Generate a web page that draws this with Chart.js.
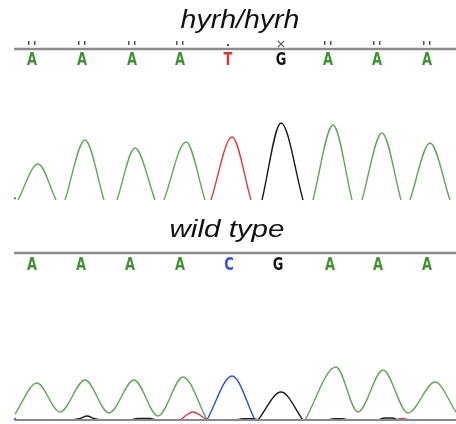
<!DOCTYPE html>
<html>
<head>
<meta charset="utf-8">
<script src="https://cdn.jsdelivr.net/npm/chart.js@4/dist/chart.umd.min.js"></script>
<style>
  html, body { margin: 0; padding: 0; background: #fff; }
  #wrap { position: relative; width: 456px; height: 424px; }
  canvas { position: absolute; left: 0; }
</style>
</head>
<body>
<div id="wrap">
  <canvas id="top" width="456" height="212" style="top:0"></canvas>
  <canvas id="bottom" width="456" height="212" style="top:212px"></canvas>
</div>
<script>
// base calls and where they sit along the trace (scan position)
const mutBases = ['A', 'A', 'A', 'A', 'T', 'G', 'A', 'A', 'A'];
const mutBasePos = [32, 82, 132, 180, 228, 281, 328, 377, 427];
const wtBases = ['A', 'A', 'A', 'A', 'C', 'G', 'A', 'A', 'A'];
const wtBasePos = [32, 81, 130, 180, 229, 278, 330, 378, 427];

// hyrh/hyrh trace, signal per channel (null = no signal)
const mutGreen = [
  [18, 0], [38, 360], [56, 0], null,
  [65, 0], [85, 600], [104, 0], null,
  [117, 0], [135, 520], [155, 0], null,
  [164, 0], [186, 580], [205, 0], null,
  [313, 0], [333, 750], [352, 0], null,
  [362, 0], [382, 670], [401, 0], null,
  [410, 0], [430, 570], [450, 0]
];
const mutRed = [[211, 0], [232, 630], [251, 0]];
const mutBlack = [[262, 0], [281, 770], [303, 0]];
const mutBlue = [[14, 10], [16, 25]];

// wild type trace
const wtGreen = [
  [15, 60], [37, 370], [60, 80], [85, 400], [109, 70], [134, 400], [158, 40], [183, 430], [207, 0], null,
  [305, 0], [336, 530], [358, 80], [383, 500], [408, 70], [435, 380], [456, 80]
];
const wtBlue = [[14, 0], [16, 20], null, [207, 0], [232, 440], [255, 0]];
const wtBlack = [
  [72, 0], [80, 15], [87, 40], [94, 15], [100, 0], null,
  [130, 0], [138, 15], [150, 15], [156, 0], null,
  [236, 0], [243, 12], [253, 12], [258, 0], null,
  [258, 0], [281, 280], [303, 0], null,
  [328, 0], [334, 12], [342, 12], [348, 0], null,
  [378, 0], [385, 20], [392, 20], [398, 0]
];
const wtRed = [[180, 0], [193, 80], [207, 0], null, [395, 0], [402, 15], [410, 0]];

const colors = { A: '#3e9231', T: '#e03535', G: '#151515', C: '#2f4fe0' };
const traceColors = { green: '#62a656', red: '#de3c3c', black: '#1b1b1b', blue: '#2c4ed4' };

function pts(arr) {
  return arr.map(p => p ? { x: p[0], y: p[1] } : { x: null, y: null });
}

const headerPlugin = {
  id: 'traceHeader',
  afterDraw(chart, args, opts) {
    const ctx = chart.ctx;
    const xs = chart.scales.x;
    const area = chart.chartArea;
    ctx.save();
    // title, stretched to the reference width
    ctx.font = 'italic ' + opts.titleSize + 'px "Liberation Sans", Arial, sans-serif';
    ctx.fillStyle = '#111';
    ctx.textAlign = 'center';
    ctx.textBaseline = 'alphabetic';
    const w = ctx.measureText(opts.title).width;
    ctx.save();
    ctx.translate(opts.titleX, opts.titleY);
    ctx.scale(opts.titleWidth / w, 1);
    ctx.fillText(opts.title, 0, 0);
    ctx.restore();
    // header line
    ctx.strokeStyle = '#8c8c8c';
    ctx.lineWidth = 2.5;
    ctx.beginPath();
    ctx.moveTo(area.left, opts.lineY);
    ctx.lineTo(chart.width, opts.lineY);
    ctx.stroke();
    // base letters
    ctx.font = 'bold 18px "DejaVu Sans", sans-serif';
    ctx.textBaseline = 'middle';
    opts.bases.forEach((b, i) => {
      const x = xs.getPixelForValue(opts.basePos[i]);
      if (opts.marks) {
        ctx.fillStyle = '#555';
        if (b === 'A') {
          ctx.fillRect(x - 4, opts.lineY - 8, 1.5, 4);
          ctx.fillRect(x + 2, opts.lineY - 8, 1.5, 4);
        } else if (b === 'T') {
          ctx.fillRect(x - 1, opts.lineY - 5, 2, 2);
        } else {
          ctx.strokeStyle = '#666';
          ctx.lineWidth = 1.2;
          ctx.beginPath();
          ctx.moveTo(x - 3, opts.lineY - 8); ctx.lineTo(x + 3, opts.lineY - 2);
          ctx.moveTo(x + 3, opts.lineY - 8); ctx.lineTo(x - 3, opts.lineY - 2);
          ctx.stroke();
        }
      }
      ctx.fillStyle = colors[b];
      ctx.save();
      ctx.translate(x, opts.letterY);
      ctx.scale(0.72, 1);
      ctx.fillText(b, 0, 0);
      ctx.restore();
    });
    // baseline under the trace
    if (opts.baseline) {
      ctx.strokeStyle = '#8a8a8a';
      ctx.lineWidth = 2;
      ctx.beginPath();
      ctx.moveTo(area.left + 1, area.bottom);
      ctx.lineTo(area.right, area.bottom);
      ctx.stroke();
    }
    ctx.restore();
  }
};

function makeTrace(id, sets, header, padding) {
  new Chart(document.getElementById(id), {
    type: 'line',
    data: {
      datasets: sets.map(s => ({
        data: pts(s.data),
        borderColor: traceColors[s.color],
        borderWidth: 1.4,
        pointRadius: 0,
        cubicInterpolationMode: 'monotone',
        spanGaps: false,
        clip: false
      }))
    },
    options: {
      responsive: false,
      animation: false,
      layout: { padding: padding },
      scales: {
        x: { type: 'linear', min: 14, max: 456, display: false },
        y: { min: 0, max: 1000, display: false }
      },
      plugins: {
        legend: { display: false },
        tooltip: { enabled: false },
        traceHeader: header
      }
    },
    plugins: [headerPlugin]
  });
}

makeTrace('top', [
  { data: mutGreen, color: 'green' },
  { data: mutRed, color: 'red' },
  { data: mutBlack, color: 'black' },
  { data: mutBlue, color: 'blue' }
], {
  title: 'hyrh/hyrh', titleSize: 25, titleX: 240, titleY: 28, titleWidth: 119,
  lineY: 49, letterY: 60, bases: mutBases, basePos: mutBasePos, marks: true, baseline: false
}, { top: 100, bottom: 12, left: 14, right: 0 });

makeTrace('bottom', [
  { data: wtBlack, color: 'black' },
  { data: wtRed, color: 'red' },
  { data: wtGreen, color: 'green' },
  { data: wtBlue, color: 'blue' }
], {
  title: 'wild type', titleSize: 23, titleX: 227, titleY: 25, titleWidth: 115,
  lineY: 41, letterY: 53, bases: wtBases, basePos: wtBasePos, marks: false, baseline: true
}, { top: 108, bottom: 4, left: 14, right: 0 });
</script>
</body>
</html>
